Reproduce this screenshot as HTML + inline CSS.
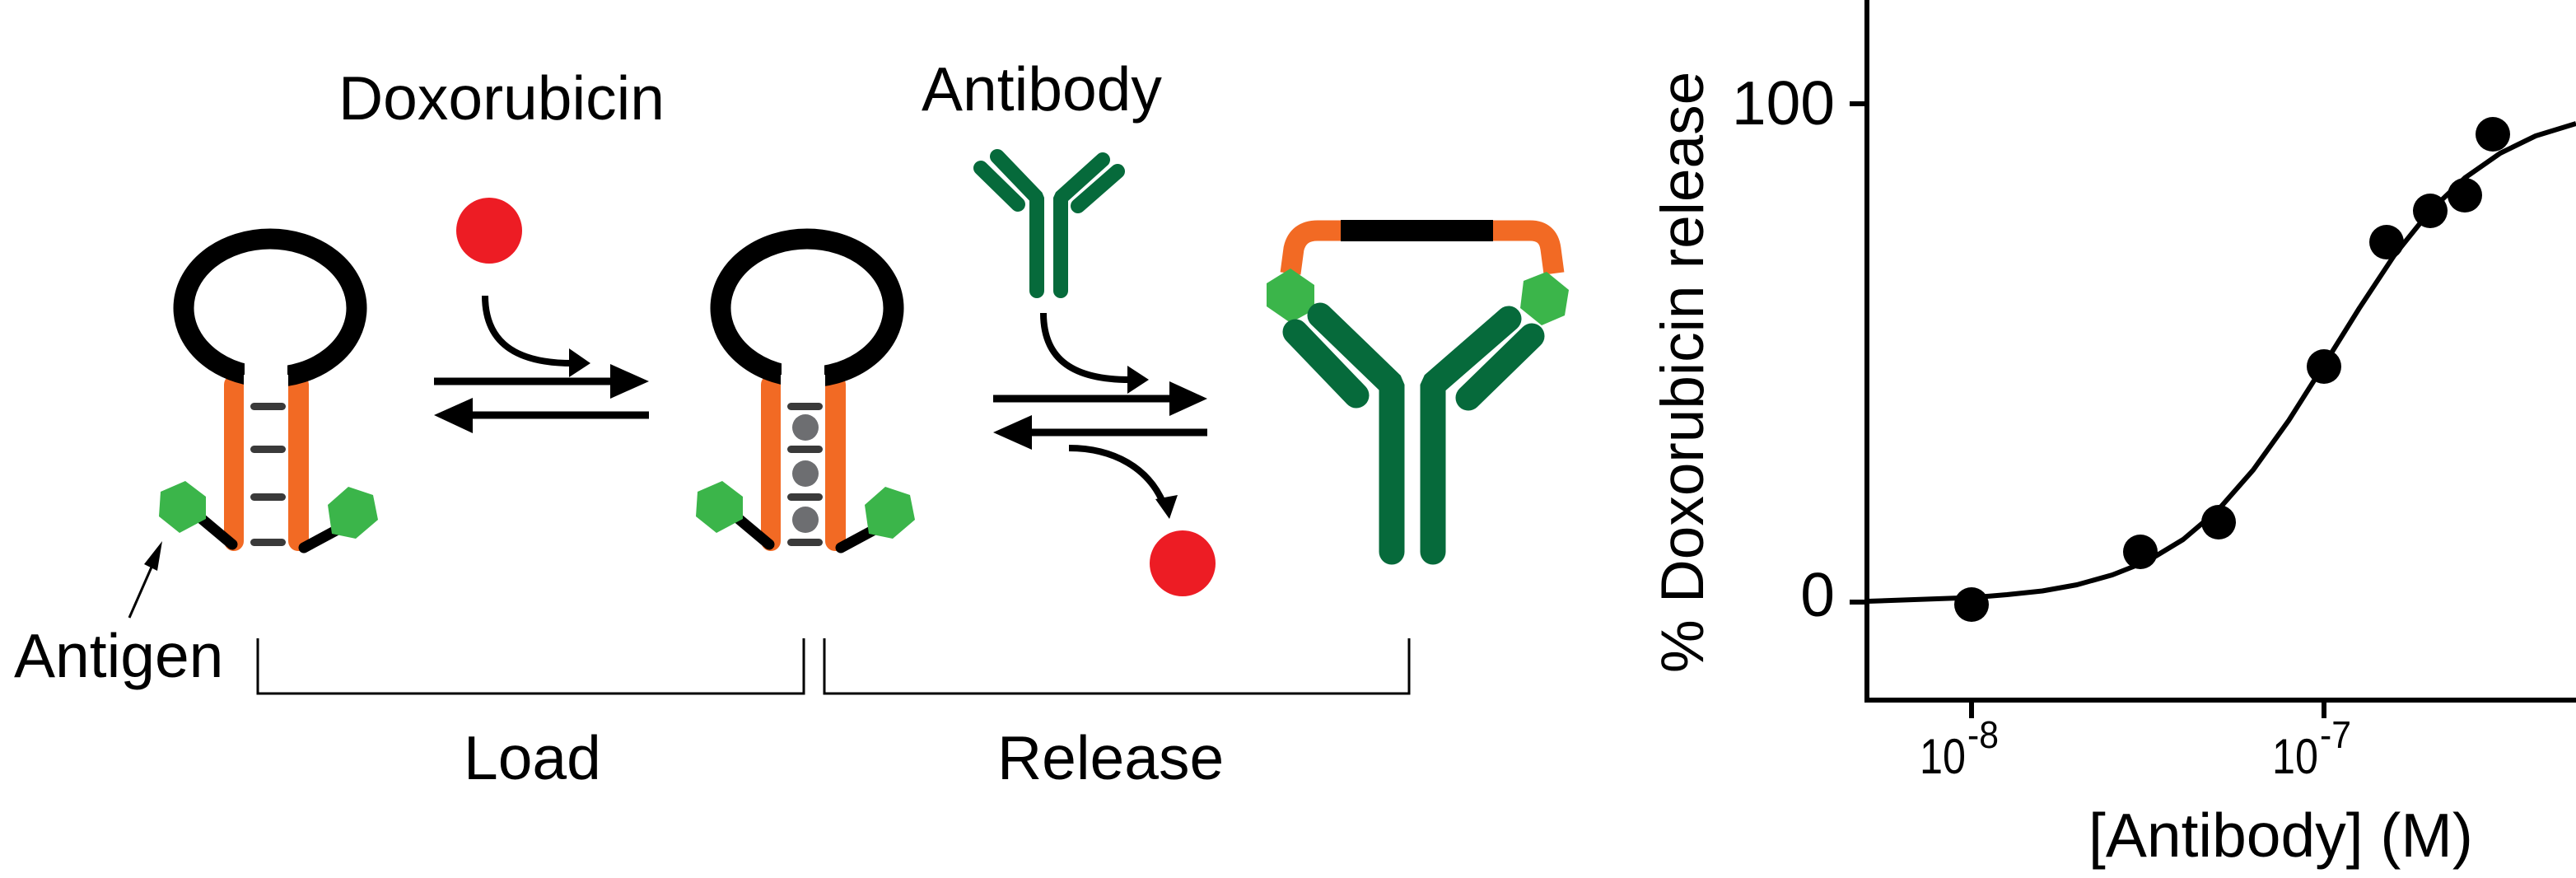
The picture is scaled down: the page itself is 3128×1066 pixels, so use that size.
<!DOCTYPE html>
<html><head><meta charset="utf-8"><style>
html,body{margin:0;padding:0;background:#fff;}
svg{display:block;}
text{font-family:"Liberation Sans",Arial,sans-serif;fill:#000;}
</style></head><body>
<svg width="3128" height="1066" viewBox="0 0 3128 1066" xmlns="http://www.w3.org/2000/svg">
<defs>
<g id="hp">
  <rect x="272" y="455" width="24" height="214" rx="12" fill="#F26A24"/>
  <rect x="350" y="455" width="25" height="214" rx="12" fill="#F26A24"/>
  <ellipse cx="328" cy="374" rx="105" ry="84" fill="none" stroke="#000" stroke-width="25"/>
  <rect x="297" y="420" width="52" height="70" fill="#fff"/>
  <rect x="296" y="455" width="54" height="30" fill="#fff"/>
  <g fill="#3a3a3a">
    <rect x="304" y="489" width="43" height="9" rx="4.5"/>
    <rect x="304" y="541" width="43" height="9" rx="4.5"/>
    <rect x="304" y="599" width="43" height="9" rx="4.5"/>
    <rect x="304" y="654" width="43" height="9" rx="4.5"/>
  </g>
  <line x1="245" y1="630" x2="282" y2="661" stroke="#000" stroke-width="13" stroke-linecap="round"/>
  <line x1="369" y1="665" x2="408" y2="644" stroke="#000" stroke-width="13" stroke-linecap="round"/>
  <polygon points="225,584 250,603 250,630 218,647 193,627 195,597" fill="#3BB54A"/>
  <polygon points="423,591 453,601 459,631 432,654 403,648 398,613" fill="#3BB54A"/>
</g>
</defs>

<!-- texts -->
<text x="411" y="145" font-size="75">Doxorubicin</text>
<text x="1119" y="134" font-size="75">Antibody</text>
<text x="17" y="822" font-size="75">Antigen</text>
<text x="563" y="946" font-size="75">Load</text>
<text x="1211" y="946" font-size="75">Release</text>

<!-- hairpins -->
<use href="#hp"/>
<g transform="translate(652,0)"><use href="#hp"/></g>
<g fill="#6d6e71">
  <circle cx="978" cy="519" r="16"/>
  <circle cx="978" cy="575" r="16"/>
  <circle cx="978" cy="631" r="16"/>
</g>

<!-- red dots -->
<circle cx="594" cy="280" r="40" fill="#ED1C24"/>
<circle cx="1436" cy="684" r="40" fill="#ED1C24"/>

<!-- curved arrows -->
<g fill="none" stroke="#000" stroke-width="8">
  <path d="M589,359 C589,415 625,441 695,441"/>
  <path d="M1267,380 C1267,438 1305,461 1372,461"/>
  <path d="M1298,544 C1352,544 1395,568 1413,612"/>
</g>
<g fill="#000">
  <polygon points="717,441 691,423 691,458"/>
  <polygon points="1395,461 1369,444 1369,478"/>
  <polygon points="1420,630 1403,606 1430,601"/>
</g>

<!-- straight arrows -->
<g stroke="#000" stroke-width="9">
  <line x1="527" y1="463" x2="745" y2="463"/>
  <line x1="570" y1="504" x2="788" y2="504"/>
  <line x1="1206" y1="484" x2="1425" y2="484"/>
  <line x1="1250" y1="525" x2="1466" y2="525"/>
</g>
<g fill="#000">
  <polygon points="788,463 741,442 741,484"/>
  <polygon points="527,504 574,483 574,526"/>
  <polygon points="1466,484 1420,463 1420,505"/>
  <polygon points="1206,525 1253,504 1253,546"/>
</g>

<!-- antigen arrow -->
<line x1="157" y1="750" x2="186" y2="684" stroke="#000" stroke-width="3"/>
<polygon points="197,657 191,693 175,685" fill="#000"/>

<!-- brackets -->
<polyline points="313,775 313,842 976,842 976,775" fill="none" stroke="#000" stroke-width="3"/>
<polyline points="1001,775 1001,842 1711,842 1711,775" fill="none" stroke="#000" stroke-width="3"/>

<!-- small antibody -->
<g fill="none" stroke="#066A3B" stroke-width="18" stroke-linecap="round" stroke-linejoin="bevel">
  <polyline points="1259,353 1259,240 1211,190"/>
  <line x1="1191" y1="204" x2="1236" y2="248"/>
  <polyline points="1288,353 1288,240 1339,194"/>
  <line x1="1357" y1="208" x2="1309" y2="250"/>
</g>

<!-- big antibody -->
<path d="M1567,332 L1571,302 Q1576,280 1600,280 L1858,280 Q1880,280 1883,302 L1887,332" fill="none" stroke="#F26A24" stroke-width="25"/>
<line x1="1628" y1="280" x2="1813" y2="280" stroke="#000" stroke-width="26"/>
<polygon points="1567,326 1596,346 1596,376 1567,392 1538,372 1538,344" fill="#3BB54A"/>
<polygon points="1878,330 1905,352 1900,383 1872,395 1846,374 1850,341" fill="#3BB54A"/>
<g fill="none" stroke="#066A3B" stroke-width="31" stroke-linecap="round" stroke-linejoin="bevel">
  <polyline points="1690,670 1690,467 1603,383"/>
  <line x1="1573" y1="403" x2="1647" y2="480"/>
  <polyline points="1740,670 1740,467 1832,387"/>
  <line x1="1860" y1="408" x2="1783" y2="483"/>
</g>

<!-- chart -->
<g stroke="#000" stroke-width="6" fill="none">
  <line x1="2267" y1="0" x2="2267" y2="853"/>
  <line x1="2264" y1="850" x2="3128" y2="850"/>
  <line x1="2246" y1="126" x2="2267" y2="126"/>
  <line x1="2246" y1="731" x2="2267" y2="731"/>
  <line x1="2394" y1="850" x2="2394" y2="872"/>
  <line x1="2822" y1="850" x2="2822" y2="872"/>
</g>
<path d="M2268,730 L2394,725.5 L2437,722 L2480,717.5 L2522,710 L2565,698 L2608,681 L2651,655 L2694,618.5 L2736,570.6 L2779,510.8 L2822,443 L2865,374 L2907,310.5 L2950,257 L2993,216 L3036,186 L3079,165 L3128,150" fill="none" stroke="#000" stroke-width="6" stroke-linejoin="round"/>
<g fill="#000">
  <circle cx="2394" cy="734" r="21"/>
  <circle cx="2599" cy="670" r="21"/>
  <circle cx="2694" cy="634" r="21"/>
  <circle cx="2822" cy="445" r="21"/>
  <circle cx="2898" cy="294" r="21"/>
  <circle cx="2951" cy="256" r="21"/>
  <circle cx="2993" cy="237" r="21"/>
  <circle cx="3027" cy="163" r="21"/>
</g>
<text x="2228" y="151" font-size="75" text-anchor="end">100</text>
<text x="2228" y="748" font-size="75" text-anchor="end">0</text>
<text x="2331" y="939" font-size="60" textLength="56" lengthAdjust="spacingAndGlyphs">10</text>
<text x="2389" y="908" font-size="46" textLength="38" lengthAdjust="spacingAndGlyphs">-8</text>
<text x="2759" y="939" font-size="60" textLength="56" lengthAdjust="spacingAndGlyphs">10</text>
<text x="2817" y="908" font-size="46" textLength="38" lengthAdjust="spacingAndGlyphs">-7</text>
<text x="2536" y="1040" font-size="75">[Antibody] (M)</text>
<text transform="translate(2068,452) rotate(-90)" x="0" y="0" font-size="73" text-anchor="middle">% Doxorubicin release</text>
</svg>
</body></html>
